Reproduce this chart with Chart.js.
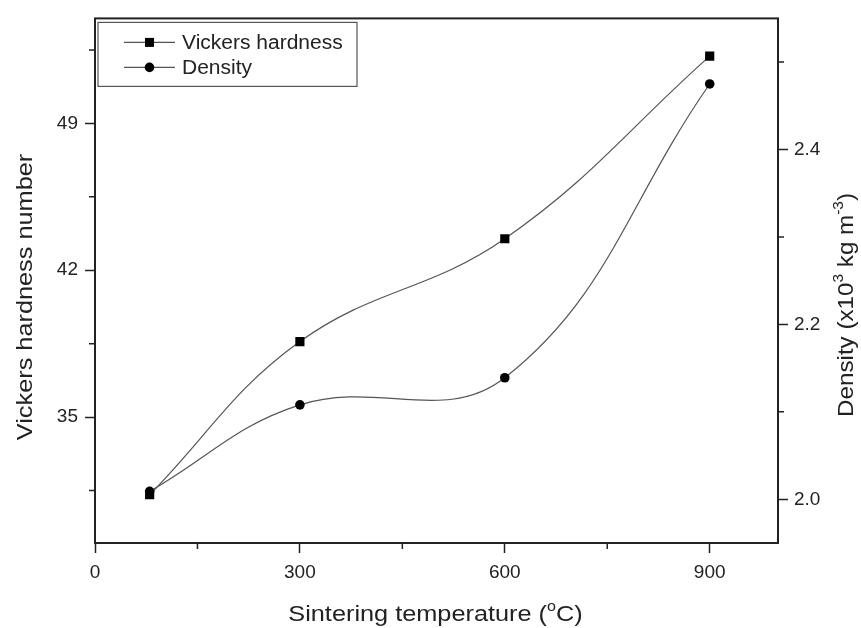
<!DOCTYPE html>
<html>
<head>
<meta charset="utf-8">
<script src="https://cdn.jsdelivr.net/npm/chart.js@4/dist/chart.umd.min.js"></script>
<style>
  html, body { margin: 0; padding: 0; background: #ffffff; }
  #wrap { width: 861px; height: 628px; }
</style>
</head>
<body>
<div id="wrap"><canvas id="c" width="861" height="628"></canvas></div>
<script>
// ---- data ----
const temperatures = [80, 300, 600, 900];
const hardness = [31.3, 38.6, 43.5, 52.2];
const density = [2.009, 2.108, 2.139, 2.475];

const seriesNames = ['Vickers hardness', 'Density'];

const xTickValues = [0, 150, 300, 450, 600, 750, 900];
const xTickLabels = [0, 300, 600, 900];
const hardnessTickValues = [31.5, 35, 38.5, 42, 45.5, 49, 52.5];
const hardnessTickLabels = [35, 42, 49];
const densityTickValues = [2.0, 2.1, 2.2, 2.3, 2.4, 2.5];
const densityTickLabels = [2.0, 2.2, 2.4];

const xTitle = [['Sintering temperature (', 0], ['o', 1], ['C)', 0]];
const yTitle = [['Vickers hardness number', 0]];
const y1Title = [['Density (x10', 0], ['3', 1], [' kg m', 0], ['-3', 1], [')', 0]];

const FONT = '"Liberation Sans", Arial, Helvetica, sans-serif';
const AXIS = '#222222';
const LINE = '#555555';

function setTicks(values) {
  return (axis) => { axis.ticks = values.map(v => ({ value: v })); };
}
function majorColor(labels) {
  return (ctx) => (ctx.tick && labels.includes(ctx.tick.value)) ? AXIS : 'rgba(0,0,0,0)';
}

function drawRichText(ctx, segs, size, cx, cy, rot, stretch) {
  const supSize = Math.round(size * 0.62);
  let total = 0;
  const widths = segs.map(([t, sup]) => {
    ctx.font = (sup ? supSize : size) + 'px ' + FONT;
    const w = ctx.measureText(t).width;
    total += w;
    return w;
  });
  ctx.save();
  ctx.translate(cx, cy);
  ctx.rotate(rot);
  ctx.scale(stretch, 1);
  ctx.fillStyle = AXIS;
  ctx.textBaseline = 'alphabetic';
  ctx.textAlign = 'left';
  let x = -total / 2;
  const base = size * 0.36;
  segs.forEach(([t, sup], i) => {
    ctx.font = (sup ? supSize : size) + 'px ' + FONT;
    ctx.fillText(t, x, sup ? base - size * 0.45 : base);
    x += widths[i];
  });
  ctx.restore();
}

const decor = {
  id: 'decor',
  afterDraw(chart) {
    const ctx = chart.ctx;
    const a = chart.chartArea;
    const xs = chart.scales.x, ys = chart.scales.y, y1 = chart.scales.y1;
    ctx.save();
    // frame
    ctx.strokeStyle = AXIS;
    ctx.lineWidth = 2;
    ctx.strokeRect(a.left, a.top, a.right - a.left, a.bottom - a.top);
    // minor ticks
    ctx.lineWidth = 1.5;
    ctx.beginPath();
    xTickValues.filter(v => !xTickLabels.includes(v)).forEach(v => {
      const p = xs.getPixelForValue(v);
      ctx.moveTo(p, a.bottom); ctx.lineTo(p, a.bottom + 6);
    });
    hardnessTickValues.filter(v => !hardnessTickLabels.includes(v)).forEach(v => {
      const p = ys.getPixelForValue(v);
      ctx.moveTo(a.left - 6, p); ctx.lineTo(a.left, p);
    });
    densityTickValues.filter(v => !densityTickLabels.includes(v)).forEach(v => {
      const p = y1.getPixelForValue(v);
      ctx.moveTo(a.right, p); ctx.lineTo(a.right + 6, p);
    });
    ctx.stroke();

    // legend
    const lx = a.left + 3, ly = a.top + 4, lw = 259, lh = 64;
    ctx.fillStyle = '#ffffff';
    ctx.fillRect(lx, ly, lw, lh);
    ctx.strokeStyle = '#555555';
    ctx.lineWidth = 1.2;
    ctx.strokeRect(lx, ly, lw, lh);
    chart.data.datasets.forEach((ds, i) => {
      const ry = ly + 20 + i * 25;
      ctx.strokeStyle = LINE;
      ctx.lineWidth = 1.2;
      ctx.beginPath();
      ctx.moveTo(lx + 26, ry); ctx.lineTo(lx + 77, ry);
      ctx.stroke();
      ctx.fillStyle = '#000000';
      if (ds.pointStyle === 'rect') {
        ctx.fillRect(lx + 51.5 - 4.5, ry - 4.5, 9, 9);
      } else {
        ctx.beginPath();
        ctx.arc(lx + 51.5, ry, ds.pointRadius, 0, Math.PI * 2);
        ctx.fill();
      }
      ctx.save();
      ctx.font = '20px ' + FONT;
      ctx.fillStyle = AXIS;
      ctx.textBaseline = 'middle';
      ctx.translate(lx + 84, ry + 1);
      ctx.scale(1.05, 1);
      ctx.fillText(ds.label, 0, 0);
      ctx.restore();
    });

    // axis titles
    drawRichText(ctx, xTitle, 22, (a.left + a.right) / 2 - 1, 613, 0, 1.15);
    drawRichText(ctx, yTitle, 22, 24, 297, -Math.PI / 2, 1.15);
    drawRichText(ctx, y1Title, 22, 845, 305, -Math.PI / 2, 1.1);
    ctx.restore();
  }
};

const tickFont = { family: FONT, size: 19 };

new Chart(document.getElementById('c'), {
  type: 'line',
  data: {
    datasets: [
      {
        label: seriesNames[0],
        data: temperatures.map((t, i) => ({ x: t, y: hardness[i] })),
        yAxisID: 'y',
        borderColor: LINE,
        borderWidth: 1.2,
        tension: 0.4,
        pointStyle: 'rect',
        pointRadius: 6.5,
        pointBackgroundColor: '#000000',
        pointBorderWidth: 0,
        fill: false
      },
      {
        label: seriesNames[1],
        data: temperatures.map((t, i) => ({ x: t, y: density[i] })),
        yAxisID: 'y1',
        borderColor: LINE,
        borderWidth: 1.2,
        tension: 0.4,
        pointStyle: 'circle',
        pointRadius: 4.8,
        pointBackgroundColor: '#000000',
        pointBorderWidth: 0,
        fill: false
      }
    ]
  },
  options: {
    responsive: false,
    animation: false,
    layout: { padding: { top: 15, left: 0, right: 0, bottom: 0 } },
    plugins: { legend: { display: false }, tooltip: { enabled: false } },
    scales: {
      x: {
        type: 'linear',
        min: 0, max: 1000,
        afterBuildTicks: setTicks(xTickValues),
        afterFit: (s) => { s.height = 85; },
        ticks: {
          autoSkip: false, maxRotation: 0, padding: 8,
          color: AXIS, font: tickFont,
          callback: (v) => xTickLabels.includes(v) ? String(v) : ''
        },
        grid: { drawOnChartArea: false, tickLength: 10, tickWidth: 1.5, tickColor: majorColor(xTickLabels) },
        border: { display: false }
      },
      y: {
        type: 'linear', position: 'left',
        min: 29, max: 54,
        afterBuildTicks: setTicks(hardnessTickValues),
        afterFit: (s) => { s.width = 95; },
        ticks: {
          autoSkip: false, padding: 7,
          color: AXIS, font: tickFont,
          callback: (v) => hardnessTickLabels.includes(v) ? String(v) : ''
        },
        grid: { drawOnChartArea: false, tickLength: 10, tickWidth: 1.5, tickColor: majorColor(hardnessTickLabels) },
        border: { display: false }
      },
      y1: {
        type: 'linear', position: 'right',
        min: 1.95, max: 2.55,
        afterBuildTicks: setTicks(densityTickValues),
        afterFit: (s) => { s.width = 83; },
        ticks: {
          autoSkip: false, padding: 6,
          color: AXIS, font: tickFont,
          callback: (v) => densityTickLabels.includes(v) ? v.toFixed(1) : ''
        },
        grid: { drawOnChartArea: false, tickLength: 10, tickWidth: 1.5, tickColor: majorColor(densityTickLabels) },
        border: { display: false }
      }
    }
  },
  plugins: [decor]
});
</script>
</body>
</html>
